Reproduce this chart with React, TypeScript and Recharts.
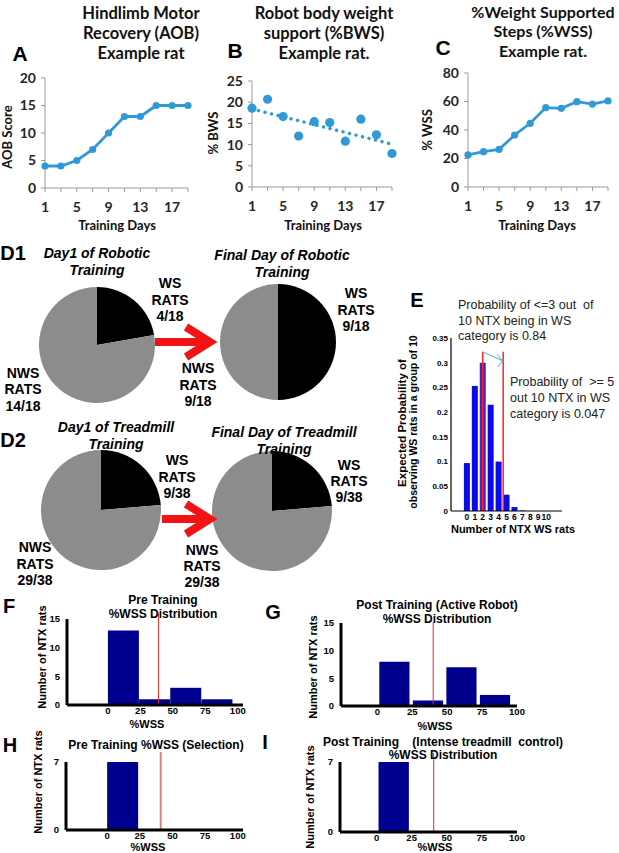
import React from 'react';
import {
  LineChart,
  Line,
  BarChart,
  Bar,
  Cell,
  PieChart,
  Pie,
  XAxis,
  YAxis,
  ReferenceLine,
} from 'recharts';

// A-C: example rat over training days
const trainingDays = [1, 3, 5, 7, 9, 11, 13, 15, 17, 19];
const aobScore = [4, 4, 5, 7, 10, 13, 13, 15, 15, 15];
const bwsPercent = [18.6, 20.7, 16.6, 12.0, 15.4, 15.2, 10.8, 16.0, 12.3, 7.9];
const bwsTrend = [18.4, null, null, null, null, null, null, null, null, 10.1];
const wssPercent = [22.5, 24.8, 26.4, 36.5, 44.7, 55.7, 55.2, 59.9, 58.2, 60.4];

// D1/D2 pies: [WS, NWS]
const pieGroups = ['WS', 'NWS'];
const robotDay1 = [4, 14];
const robotFinal = [9, 9];
const treadDay1 = [9, 29];
const treadFinal = [9, 29];

// E: binomial expectation
const ntxWsRats = [0, 1, 2, 3, 4, 5, 6, 7, 8, 9, 10];
const expectedProb = [0.097, 0.253, 0.3, 0.215, 0.1, 0.033, 0.008, 0.001, 0, 0, 0];

// F-I: %WSS histograms
const wssBinCenters = [12, 36, 60, 84];
const wssTicks = [0, 25, 50, 75, 100];
const preTrainCounts = [13, 1, 3, 1];
const postRobotCounts = [8, 1, 7, 2];
const preSelectCounts = [7, 0, 0, 0];
const postTreadCounts = [7, 0, 0, 0];
const wssCutoff = [39, 40, 41, 40.7];

const SANS = '"Liberation Sans", Arial, sans-serif';
const CAL = 'Lato, "Open Sans", sans-serif';
const BLUE = '#3199d5';
const NAVY = '#00008f';

const dayData = trainingDays.map((d, i) => ({
  day: d,
  aob: aobScore[i],
  bws: bwsPercent[i],
  trend: bwsTrend[i],
  wss: wssPercent[i],
}));

const pieRows = (vals: number[]) => pieGroups.map((g, i) => ({ name: g, value: vals[i] }));
const probData = ntxWsRats.map((n, i) => ({ n, p: expectedProb[i] }));
const histRows = (counts: number[]) => wssBinCenters.map((b, i) => ({ bin: b, count: counts[i] }));

const dayTick = { fontSize: 14, fontWeight: 700, fill: '#262626', fontFamily: CAL };
const grayAxis = { stroke: '#9a9a9a', strokeWidth: 1 };

function Txt(props: any) {
  const { x, y, size = 14, weight = 700, italic, family = SANS, anchor = 'middle', rotate, fill = '#000', children } = props;
  return (
    <text
      x={x}
      y={y}
      fontSize={size}
      fontWeight={weight}
      fontStyle={italic ? 'italic' : 'normal'}
      fontFamily={family}
      textAnchor={anchor}
      dominantBaseline="central"
      fill={fill}
      transform={rotate ? `rotate(${rotate} ${x} ${y})` : undefined}
      style={{ whiteSpace: 'pre' }}
    >
      {children}
    </text>
  );
}

function Lines({ x, ys, lines, ...rest }: any) {
  return (
    <>
      {lines.map((l: string, i: number) => (
        <Txt key={i} x={x} y={ys[i]} {...rest}>{l}</Txt>
      ))}
    </>
  );
}

function Arrow({ x1, x2, y }: any) {
  return (
    <g stroke="#f21414" strokeWidth={8} fill="none">
      <line x1={x1} y1={y} x2={x2 - 6} y2={y} />
      <polyline points={`${x2 - 27},${y - 15} ${x2 - 3},${y} ${x2 - 27},${y + 15}`} />
    </g>
  );
}

const abs = (left: number, top: number): React.CSSProperties => ({ position: 'absolute', left, top });

function DayXAxis() {
  return (
    <XAxis
      dataKey="day"
      type="category"
      interval={0}
      tickFormatter={(v: any, i: number) => (i % 2 === 0 ? String(v) : '')}
      tick={dayTick}
      tickSize={4}
      tickMargin={10}
      height={30}
      axisLine={grayAxis}
      tickLine={grayAxis}
    />
  );
}

function DayPie({ cx, cy, r, vals }: any) {
  const size = 2 * r + 12;
  return (
    <div style={abs(cx - size / 2, cy - size / 2)}>
      <PieChart width={size} height={size} margin={{ top: 0, right: 0, bottom: 0, left: 0 }}>
        <Pie
          data={pieRows(vals)}
          dataKey="value"
          nameKey="name"
          outerRadius={r}
          startAngle={90}
          endAngle={-270}
          stroke="none"
          isAnimationActive={false}
        >
          <Cell fill="#000000" />
          <Cell fill="#8c8c8c" />
        </Pie>
      </PieChart>
    </div>
  );
}

function Hist({ left, top, width, height, margin, counts, xDomain, yMax, yTicks, barSize, cut, cutTop, cutColor, cutWidth }: any) {
  const tick = { fontSize: 9.5, fontWeight: 700, fill: '#000', fontFamily: SANS };
  return (
    <div style={abs(left, top)}>
      <BarChart width={width} height={height} margin={margin} data={histRows(counts)}>
        <XAxis
          type="number"
          dataKey="bin"
          domain={xDomain}
          ticks={wssTicks}
          interval={0}
          allowDataOverflow
          tick={tick}
          tickSize={0}
          tickMargin={2}
          height={17}
          axisLine={{ stroke: '#000', strokeWidth: 3 }}
          tickLine={false}
        />
        <YAxis
          domain={[0, yMax]}
          ticks={yTicks}
          interval={0}
          width={30}
          tick={tick}
          tickSize={0}
          tickMargin={7}
          axisLine={{ stroke: '#000', strokeWidth: 3 }}
          tickLine={false}
        />
        <Bar dataKey="count" fill={NAVY} barSize={barSize} isAnimationActive={false} />
        <ReferenceLine
          segment={[{ x: cut, y: 0 }, { x: cut, y: cutTop }]}
          stroke={cutColor}
          strokeWidth={cutWidth}
          ifOverflow="visible"
        />
      </BarChart>
    </div>
  );
}

export default function App() {
  return (
    <div style={{ position: 'absolute', left: 0, top: 0, width: 619, height: 853, background: '#fff', overflow: 'hidden' }}>
      {/* A */}
      <div style={abs(0, 60)}>
        <LineChart width={200} height={160} data={dayData} margin={{ top: 18, right: 12, bottom: 2, left: 10 }}>
          {DayXAxis()}
          <YAxis domain={[0, 20]} ticks={[0, 5, 10, 15, 20]} width={35} tick={dayTick} tickSize={4} tickMargin={5} axisLine={grayAxis} tickLine={grayAxis} />
          <Line dataKey="aob" stroke={BLUE} strokeWidth={2.8} dot={{ r: 3.6, fill: BLUE, stroke: BLUE, strokeWidth: 0 }} activeDot={false} isAnimationActive={false} />
        </LineChart>
      </div>
      {/* B */}
      <div style={abs(200, 60)}>
        <LineChart width={205} height={160} data={dayData} margin={{ top: 21, right: 13, bottom: 3, left: 17 }}>
          {DayXAxis()}
          <YAxis domain={[0, 25]} ticks={[0, 5, 10, 15, 20, 25]} width={35} tick={dayTick} tickSize={4} tickMargin={5} axisLine={grayAxis} tickLine={grayAxis} />
          <Line dataKey="trend" connectNulls stroke={BLUE} strokeWidth={3.4} strokeDasharray="0.1 6.6" strokeLinecap="round" dot={false} activeDot={false} isAnimationActive={false} />
          <Line dataKey="bws" stroke="none" dot={{ r: 4.6, fill: BLUE, stroke: BLUE, strokeWidth: 0 }} activeDot={false} isAnimationActive={false} />
        </LineChart>
      </div>
      {/* C */}
      <div style={abs(405, 55)}>
        <LineChart width={214} height={165} data={dayData} margin={{ top: 18, right: 11, bottom: 3, left: 28 }}>
          {DayXAxis()}
          <YAxis domain={[0, 80]} ticks={[0, 20, 40, 60, 80]} width={35} tick={dayTick} tickSize={4} tickMargin={5} axisLine={grayAxis} tickLine={grayAxis} />
          <Line dataKey="wss" stroke={BLUE} strokeWidth={2.8} dot={{ r: 3.6, fill: BLUE, stroke: BLUE, strokeWidth: 0 }} activeDot={false} isAnimationActive={false} />
        </LineChart>
      </div>

      {/* D1 / D2 pies */}
      <DayPie cx={97} cy={345} r={58} vals={robotDay1} />
      <DayPie cx={278} cy={342} r={58} vals={robotFinal} />
      <DayPie cx={101} cy={510} r={60} vals={treadDay1} />
      <DayPie cx={272} cy={511} r={60} vals={treadFinal} />

      {/* E */}
      <div style={abs(420, 330)}>
        <BarChart width={160} height={200} data={probData} margin={{ top: 8, right: 18, bottom: 0, left: 0 }}>
          <XAxis
            type="number"
            dataKey="n"
            domain={[-2, 12]}
            ticks={ntxWsRats}
            interval={0}
            allowDataOverflow
            tick={{ fontSize: 8.5, fontWeight: 700, fill: '#000', fontFamily: SANS }}
            tickSize={0}
            tickMargin={3}
            height={19}
            axisLine={{ stroke: '#000', strokeWidth: 1.2 }}
            tickLine={false}
          />
          <YAxis
            domain={[0, 0.35]}
            ticks={[0, 0.05, 0.1, 0.15, 0.2, 0.25, 0.3, 0.35]}
            interval={0}
            tickFormatter={(v: number) => String(v)}
            width={31}
            tick={{ fontSize: 8, fontWeight: 700, fill: '#000', fontFamily: SANS }}
            tickSize={0}
            tickMargin={3}
            axisLine={{ stroke: '#000', strokeWidth: 1.2 }}
            tickLine={false}
          />
          <Bar dataKey="p" barSize={6} isAnimationActive={false}>
            {probData.map((d, i) => (
              <Cell key={i} fill={d.n === 2 ? '#4a22c8' : '#0a0ae8'} />
            ))}
          </Bar>
          <ReferenceLine segment={[{ x: 2, y: 0 }, { x: 2, y: 0.322 }]} stroke="#f22" strokeWidth={1.5} />
          <ReferenceLine segment={[{ x: 4.58, y: 0 }, { x: 4.58, y: 0.322 }]} stroke="#f22" strokeWidth={1.5} />
          <ReferenceLine segment={[{ x: 2, y: 0.322 }, { x: 4.5, y: 0.304 }]} stroke="#46b4d2" strokeWidth={1} />
          <ReferenceLine segment={[{ x: 4.5, y: 0.304 }, { x: 3.8, y: 0.317 }]} stroke="#46b4d2" strokeWidth={1} />
          <ReferenceLine segment={[{ x: 4.5, y: 0.304 }, { x: 3.9, y: 0.291 }]} stroke="#46b4d2" strokeWidth={1} />
        </BarChart>
      </div>

      {/* F-I */}
      <Hist left={20} top={610} width={240} height={112} margin={{ top: 9, right: 17, bottom: 0, left: 17 }}
        counts={preTrainCounts} xDomain={[-31.5, 104]} yMax={15} yTicks={[0, 5, 10, 15]} barSize={31}
        cut={wssCutoff[0]} cutTop={16} cutColor="#e52b2b" cutWidth={1} />
      <Hist left={290} top={615} width={250} height={108} margin={{ top: 8, right: 23, bottom: 0, left: 21 }}
        counts={postRobotCounts} xDomain={[-26, 100]} yMax={15} yTicks={[0, 5, 10, 15]} barSize={34}
        cut={wssCutoff[1]} cutTop={15.2} cutColor="#e52b2b" cutWidth={1} />
      <Hist left={20} top={752} width={240} height={95} margin={{ top: 10, right: 17, bottom: 0, left: 16 }}
        counts={preSelectCounts} xDomain={[-31.5, 104]} yMax={7} yTicks={[0, 7]} barSize={31}
        cut={wssCutoff[2]} cutTop={8.75} cutColor="#d98080" cutWidth={2} />
      <Hist left={290} top={752} width={250} height={97} margin={{ top: 10, right: 23, bottom: 0, left: 20 }}
        counts={postTreadCounts} xDomain={[-26, 100]} yMax={7} yTicks={[0, 7]} barSize={34}
        cut={wssCutoff[3]} cutTop={7.9} cutColor="#e52b2b" cutWidth={1} />

      {/* annotation layer */}
      <svg width={619} height={853} style={{ position: 'absolute', left: 0, top: 0, pointerEvents: 'none' }}>
        {/* A-C titles */}
        <Txt x={20} y={53} size={21}>A</Txt>
        <Lines x={141} ys={[13, 33, 53]} size={16.5} family={CAL} fill="#111" lines={['Hindlimb Motor', 'Recovery (AOB)', 'Example rat']} />
        <Txt x={7} y={137} size={13} family={CAL} rotate={-90} fill="#111">AOB Score</Txt>
        <Txt x={117} y={225} size={13} family={CAL} fill="#111">Training Days</Txt>

        <Txt x={235} y={50} size={21}>B</Txt>
        <Lines x={324} ys={[13, 33, 53]} size={16.5} family={CAL} fill="#111" lines={['Robot body weight', 'support (%BWS)', 'Example rat.']} />
        <Txt x={213} y={133} size={13} family={CAL} rotate={-90} fill="#111">% BWS</Txt>
        <Txt x={323} y={225} size={13} family={CAL} fill="#111">Training Days</Txt>

        <Txt x={443} y={47} size={21}>C</Txt>
        <Lines x={543} ys={[11, 30, 50]} size={16} family={CAL} fill="#111" lines={['%Weight Supported', 'Steps (%WSS)', 'Example rat.']} />
        <Txt x={427} y={130} size={13} family={CAL} rotate={-90} fill="#111">% WSS</Txt>
        <Txt x={537} y={225} size={13} family={CAL} fill="#111">Training Days</Txt>

        {/* D1 */}
        <Txt x={13} y={253} size={20}>D1</Txt>
        <Lines x={97} ys={[253, 270]} size={14} italic lines={['Day1 of Robotic', 'Training']} />
        <Lines x={282} ys={[255, 272]} size={14} italic lines={['Final Day of Robotic', 'Training']} />
        <Lines x={170} ys={[283, 300, 316]} size={14} lines={['WS', 'RATS', '4/18']} />
        <Lines x={23} ys={[373, 389, 406]} size={14} lines={['NWS', 'RATS', '14/18']} />
        <Lines x={356} ys={[293, 310, 326]} size={14} lines={['WS', 'RATS', '9/18']} />
        <Lines x={198} ys={[368, 385, 401]} size={14} lines={['NWS', 'RATS', '9/18']} />
        <Arrow x1={155} x2={213} y={342} />

        {/* D2 */}
        <Txt x={13} y={440} size={20}>D2</Txt>
        <Lines x={116} ys={[427, 444]} size={14} italic lines={['Day1 of Treadmill', 'Training']} />
        <Lines x={284} ys={[432, 449]} size={14} italic lines={['Final Day of Treadmill', 'Training']} />
        <Lines x={177} ys={[460, 477, 493]} size={14} lines={['WS', 'RATS', '9/38']} />
        <Lines x={349} ys={[465, 481, 497]} size={14} lines={['WS', 'RATS', '9/38']} />
        <Lines x={35} ys={[547, 564, 580]} size={14} lines={['NWS', 'RATS', '29/38']} />
        <Lines x={202} ys={[550, 566, 582]} size={14} lines={['NWS', 'RATS', '29/38']} />
        <Arrow x1={162} x2={213} y={519} />

        {/* E */}
        <Txt x={417} y={300} size={20}>E</Txt>
        <Lines x={458} ys={[305, 321, 336]} size={12.5} weight={400} anchor="start" fill="#222"
          lines={['Probability of <=3 out  of', '10 NTX being in WS', 'category is 0.84']} />
        <Lines x={510} ys={[382, 398, 414]} size={12.5} weight={400} anchor="start" fill="#222"
          lines={['Probability of  >= 5', 'out 10 NTX in WS', 'category is 0.047']} />
        <Txt x={402} y={423} size={11.5} rotate={-90}>Expected Probability of</Txt>
        <Txt x={413} y={422} size={10.5} rotate={-90}>observing WS rats in a group of 10</Txt>
        <Txt x={513} y={529} size={11}>Number of NTX WS rats</Txt>

        {/* F */}
        <Txt x={9} y={606} size={20}>F</Txt>
        <Lines x={163} ys={[600, 614]} size={12} lines={['Pre Training', '%WSS Distribution']} />
        <Txt x={42} y={657} size={11} rotate={-90}>Number of NTX rats</Txt>
        <Txt x={147} y={724} size={11}>%WSS</Txt>

        {/* G */}
        <Txt x={273} y={612} size={20}>G</Txt>
        <Lines x={437} ys={[605, 619]} size={12} lines={['Post Training (Active Robot)', '%WSS Distribution']} />
        <Txt x={313} y={667} size={11} rotate={-90}>Number of NTX rats</Txt>
        <Txt x={435} y={726} size={11}>%WSS</Txt>

        {/* H */}
        <Txt x={10} y={745} size={20}>H</Txt>
        <Txt x={156} y={745} size={12}>Pre Training %WSS (Selection)</Txt>
        <Txt x={38} y={782} size={11} rotate={-90}>Number of NTX rats</Txt>
        <Txt x={148} y={847} size={11}>%WSS</Txt>

        {/* I */}
        <Txt x={265} y={742} size={20}>I</Txt>
        <Lines x={443} ys={[742, 755]} size={12} lines={['Post Training    (Intense treadmill  control)', '%WSS Distribution']} />
        <Txt x={310} y={797} size={11} rotate={-90}>Number of NTX rats</Txt>
        <Txt x={435} y={847} size={11}>%WSS</Txt>
      </svg>
    </div>
  );
}
